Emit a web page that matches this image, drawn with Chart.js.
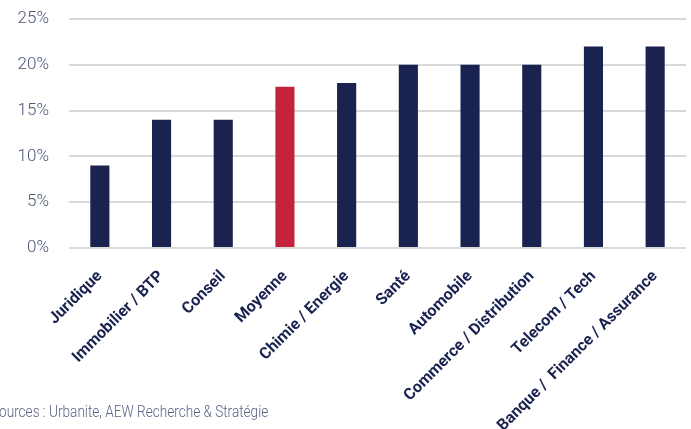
<!DOCTYPE html>
<html>
<head>
<meta charset="utf-8">
<script src="https://cdn.jsdelivr.net/npm/chart.js@4"></script>
<style>
  html,body{margin:0;padding:0;background:#fff;}
  #wrap{position:relative;width:691px;height:429px;overflow:hidden;}
  #source{position:absolute;left:-9px;top:402px;font-family:Roboto,sans-serif;font-weight:300;font-size:16px;color:#5a6384;white-space:nowrap;transform:scaleX(0.85);transform-origin:left top;}
</style>
</head>
<body>
<div id="wrap">
  <canvas id="c" width="691" height="429"></canvas>
  <div id="source">Sources : Urbanite, AEW Recherche &amp; Stratégie</div>
</div>
<script>
// Secteurs & valeurs
const categories = ['Juridique','Immobilier / BTP','Conseil','Moyenne','Chimie / Energie','Santé','Automobile','Commerce / Distribution','Telecom / Tech','Banque /  Finance / Assurance'];
const values = [9, 14, 14, 17.6, 18, 20, 20, 20, 22, 22];
const yTicks = [0, 5, 10, 15, 20, 25];

const navy = '#1a2350';
const red = '#c4223a';
const barColors = categories.map(c => c === 'Moyenne' ? red : navy);

const ctx = document.getElementById('c').getContext('2d');
new Chart(ctx, {
  type: 'bar',
  data: {
    labels: categories,
    datasets: [{ data: values, backgroundColor: barColors, borderWidth: 0, barPercentage: 0.31, categoryPercentage: 1 }]
  },
  options: {
    responsive: false,
    animation: false,
    layout: { padding: { top: 19, left: 0, right: 5, bottom: 0 } },
    plugins: { legend: { display: false }, tooltip: { enabled: false } },
    scales: {
      x: {
        grid: { display: false, drawTicks: false },
        border: { display: false },
        ticks: { color: navy, font: { family: 'Roboto', weight: 'bold', size: 16 }, minRotation: 45, maxRotation: 45, autoSkip: false, padding: 19 },
        afterFit: a => { a.height = 181; a.paddingLeft = 0; a.paddingRight = 0; }
      },
      y: {
        min: 0, max: 25,
        afterBuildTicks: axis => { axis.ticks = yTicks.map(v => ({ value: v })); },
        grid: { color: '#d9d9d9', lineWidth: 2, drawTicks: false },
        border: { display: false },
        ticks: { color: '#4b5577', font: { family: 'Roboto', weight: 300, size: 17 }, padding: 20, callback: v => v + '%' },
        afterFit: a => { a.width = 69; a.paddingTop = 0; a.paddingBottom = 0; }
      }
    }
  }
});
</script>
</body>
</html>
